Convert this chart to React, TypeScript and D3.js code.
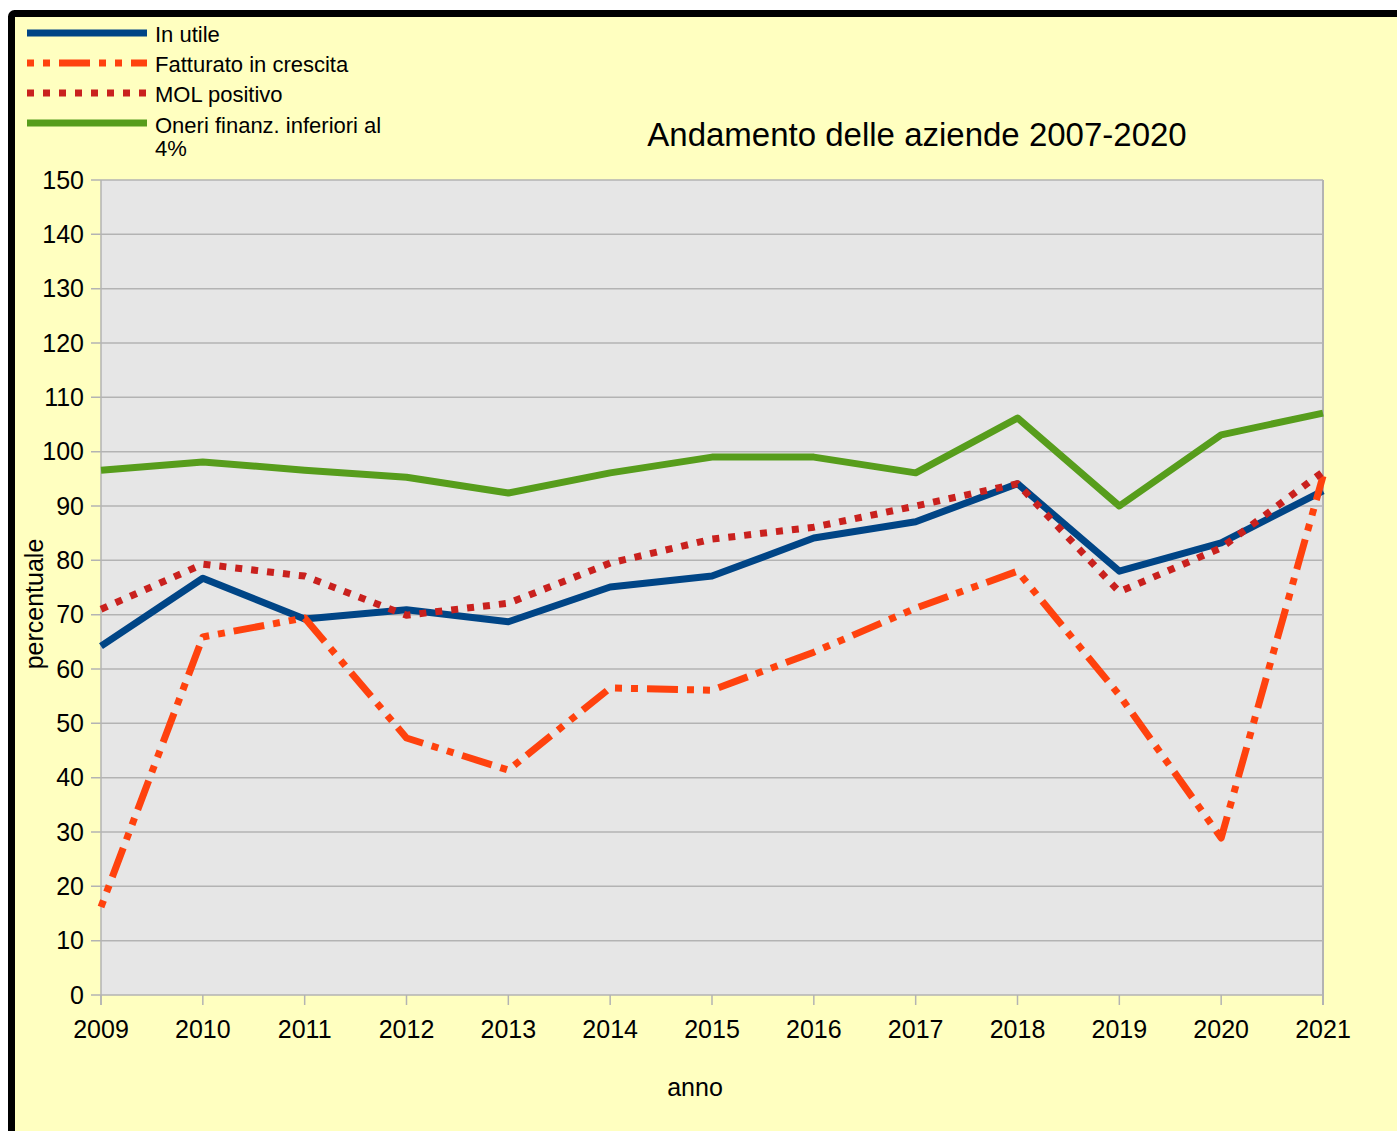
import React from 'react';
import { scaleLinear, scalePoint, line } from 'd3';

const years = ['2009', '2010', '2011', '2012', '2013', '2014', '2015', '2016', '2017', '2018', '2019', '2020', '2021'];
const inUtile = [64.2, 76.7, 69.2, 70.9, 68.7, 75.1, 77.1, 84.1, 87.1, 94.1, 78.0, 83.2, 92.8];
const fatturato = [16.2, 65.9, 69.4, 47.3, 41.4, 56.5, 56.1, 63.1, 71.2, 78.0, 55.2, 28.9, 95.5];
const molPositivo = [71.0, 79.3, 77.1, 69.9, 72.1, 79.5, 83.9, 86.1, 90.0, 94.1, 74.2, 82.3, 96.3];
const oneri = [96.6, 98.1, 96.6, 95.3, 92.4, 96.1, 99.0, 99.0, 96.1, 106.2, 90.0, 103.1, 107.1];
const yTicks = [0, 10, 20, 30, 40, 50, 60, 70, 80, 90, 100, 110, 120, 130, 140, 150];

const series = [
  { name: ['In utile'], values: inUtile, color: '#004586', dash: '' },
  { name: ['Fatturato in crescita'], values: fatturato, color: '#ff420e', dash: '7 9 7 9 31 9' },
  { name: ['MOL positivo'], values: molPositivo, color: '#c9211e', dash: '7 9' },
  { name: ['Oneri finanz. inferiori al', '4%'], values: oneri, color: '#579d1c', dash: '' },
];

const W = 1397;
const H = 1131;
const plot = { left: 101, right: 1323, top: 180, bottom: 995 };
const font = '"Liberation Sans", Arial, sans-serif';

export default function App() {
  const x = scalePoint<string>().domain(years).range([plot.left, plot.right]);
  const y = scaleLinear().domain([0, 150]).range([plot.bottom, plot.top]);
  const path = line<number>()
    .x((d, i) => x(years[i]) as number)
    .y((d) => y(d));

  return (
    <svg
      width={W}
      height={H}
      style={{ position: 'absolute', left: 0, top: 0, display: 'block' }}
      fontFamily={font}
    >
      <rect x={0} y={0} width={W} height={H} fill="#ffffff" />
      {/* chart frame */}
      <rect x={11.5} y={13.5} width={W + 50} height={H + 50} rx={3} fill="#ffffc0" stroke="#000" strokeWidth={7} />

      {/* plot area */}
      <rect x={plot.left} y={plot.top} width={plot.right - plot.left} height={plot.bottom - plot.top} fill="#e6e6e6" />
      {yTicks.map((t) => (
        <g key={t}>
          <line x1={plot.left - 10} x2={plot.right} y1={y(t)} y2={y(t)} stroke="#b3b3b3" strokeWidth={1.5} />
          <text x={84} y={y(t)} dy="0.35em" textAnchor="end" fontSize={25} fill="#000">
            {t}
          </text>
        </g>
      ))}
      <line x1={plot.left} x2={plot.left} y1={plot.top} y2={plot.bottom + 10} stroke="#b3b3b3" strokeWidth={1.5} />
      <line x1={plot.right} x2={plot.right} y1={plot.top} y2={plot.bottom + 10} stroke="#b3b3b3" strokeWidth={2} />
      {years.map((yr) => (
        <g key={yr}>
          <line x1={x(yr)} x2={x(yr)} y1={plot.bottom} y2={plot.bottom + 10} stroke="#b3b3b3" strokeWidth={1.5} />
          <text x={x(yr)} y={1029} dy="0.35em" textAnchor="middle" fontSize={25} fill="#000">
            {yr}
          </text>
        </g>
      ))}

      {/* series */}
      {series.map((s) => (
        <path
          key={s.name[0]}
          d={path(s.values) || ''}
          fill="none"
          stroke={s.color}
          strokeWidth={7}
          strokeDasharray={s.dash || undefined}
          strokeLinejoin="round"
        />
      ))}

      {/* axis titles */}
      <text x={695} y={1087} dy="0.35em" textAnchor="middle" fontSize={25} fill="#000">
        anno
      </text>
      <text transform="translate(34,604) rotate(-90)" dy="0.35em" textAnchor="middle" fontSize={25} fill="#000">
        percentuale
      </text>
      <text x={917} y={146} textAnchor="middle" fontSize={33} fill="#000">
        Andamento delle aziende 2007-2020
      </text>

      {/* legend */}
      {series.map((s, i) => {
        const ly = 33 + i * 30;
        return (
          <g key={'lg' + i}>
            <line x1={27} x2={147} y1={ly} y2={ly} stroke={s.color} strokeWidth={7} strokeDasharray={s.dash || undefined} />
            {s.name.map((t, j) => (
              <text key={j} x={155} y={ly + (s.name.length > 1 ? 2 : 1) + j * 23} dy="0.35em" fontSize={22} fill="#000">
                {t}
              </text>
            ))}
          </g>
        );
      })}
    </svg>
  );
}
